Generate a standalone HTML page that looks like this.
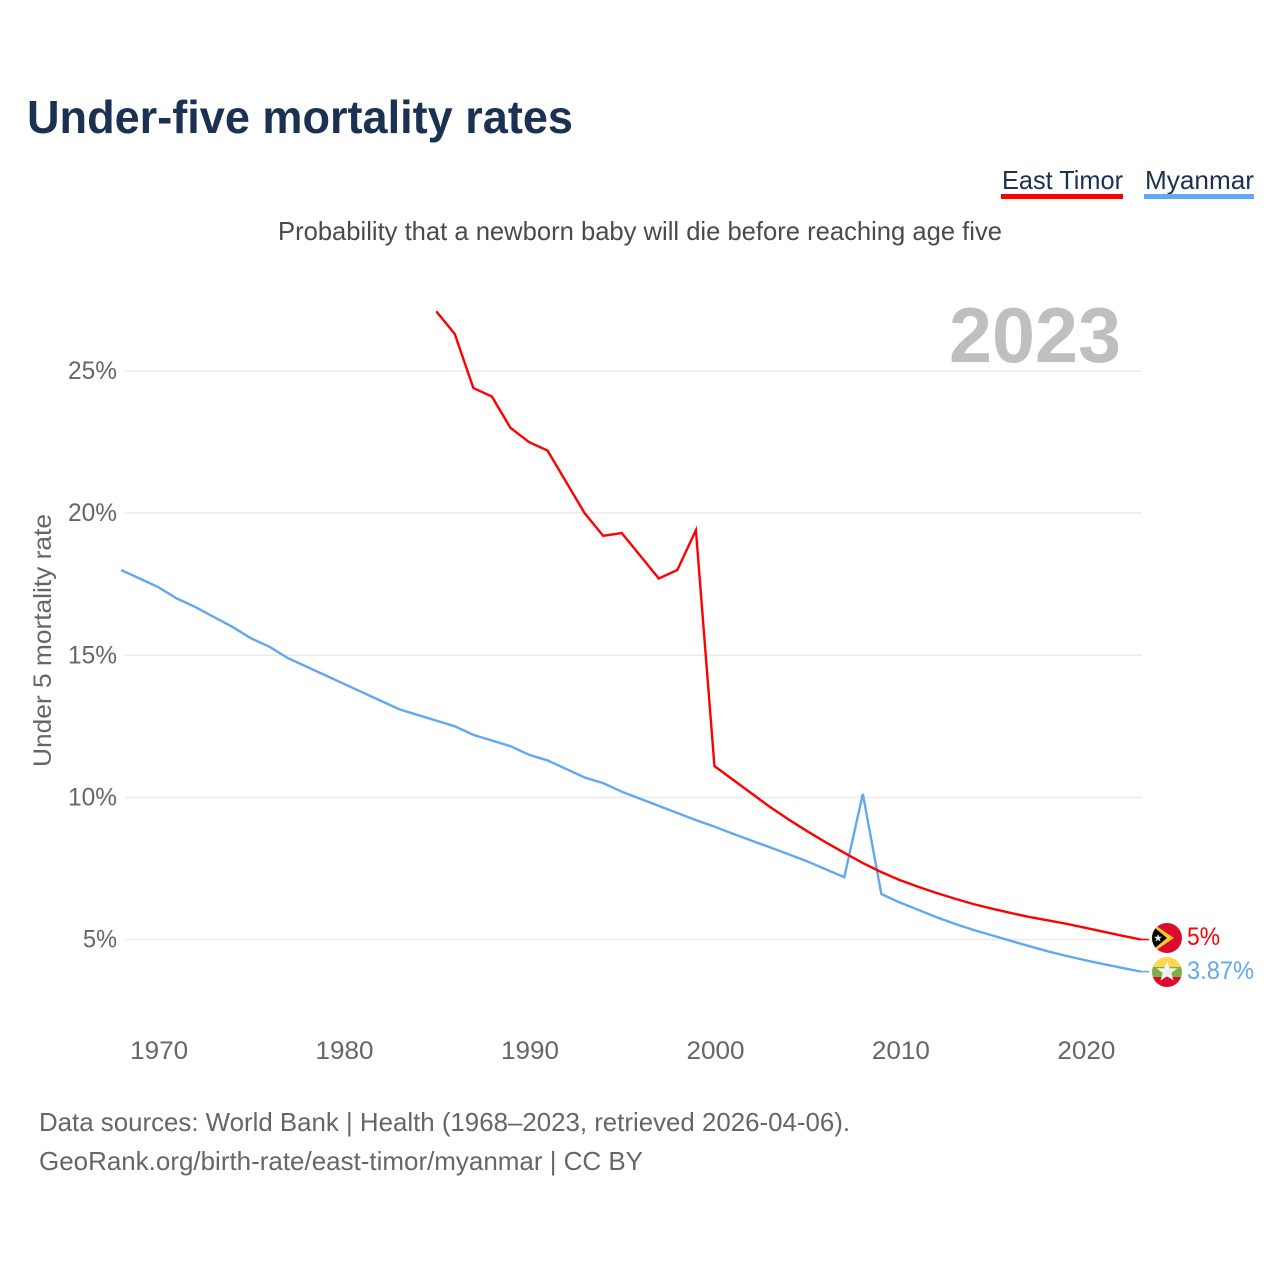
<!DOCTYPE html>
<html lang="en">
<head>
<meta charset="utf-8">
<title>Under-five mortality rates</title>
<style>
html,body{margin:0;padding:0;background:#fff;}
svg{display:block;font-family:"Liberation Sans",sans-serif;}
</style>
</head>
<body>
<svg id="chart" xmlns="http://www.w3.org/2000/svg" width="1280" height="1280" viewBox="0 0 1280 1280">
  <rect x="0" y="0" width="1280" height="1280" fill="#ffffff"/>
  <text x="27" y="133" font-size="46" font-weight="700" fill="#1a3152" textLength="546" lengthAdjust="spacingAndGlyphs">Under-five mortality rates</text>

  <g>
    <g>
      <text x="1002" y="189" font-size="26" fill="#1a3152" textLength="121" lengthAdjust="spacingAndGlyphs">East Timor</text>
      <rect x="1001" y="194" width="122" height="5" fill="#ff0000"/>
    </g>
    <g>
      <text x="1145" y="189" font-size="26" fill="#1a3152" textLength="109" lengthAdjust="spacingAndGlyphs">Myanmar</text>
      <rect x="1144" y="194" width="110" height="5" fill="#63a7ee"/>
    </g>
  </g>

  <text x="278" y="240" font-size="26" fill="#4a4a4a" textLength="724" lengthAdjust="spacingAndGlyphs">Probability that a newborn baby will die before reaching age five</text>

  <g id="grid"></g>
  <g id="yticks"></g>
  <g id="xticks"></g>

  <text x="949" y="362" font-size="78" font-weight="700" fill="#bfbfbf" textLength="172" lengthAdjust="spacingAndGlyphs">2023</text>

  <text transform="translate(51,767) rotate(-90)" x="0" y="0" font-size="25" fill="#666666" textLength="253" lengthAdjust="spacingAndGlyphs">Under 5 mortality rate</text>

  <g id="series"></g>

  <defs>
    <clipPath id="clip-tl"><circle cx="1167" cy="938" r="15"/></clipPath>
    <clipPath id="clip-mm"><circle cx="1167" cy="972" r="15"/></clipPath>
  </defs>

  <g clip-path="url(#clip-tl)">
    <rect x="1152" y="923" width="30" height="30" fill="#dc0a2d"/>
    <polygon points="1152,923 1174,938 1152,953" fill="#ffc72c"/>
    <polygon points="1152,925.5 1167,938 1152,950.5" fill="#000000"/>
    <polygon points="1158,934 1159,936.8 1162,936.8 1159.6,938.7 1160.5,941.6 1158,939.9 1155.5,941.6 1156.4,938.7 1154,936.8 1157,936.8" fill="#e8e8e8"/>
  </g>
  <g clip-path="url(#clip-mm)">
    <rect x="1152" y="957" width="30" height="10" fill="#fdd54f"/>
    <rect x="1152" y="967" width="30" height="10" fill="#7fae48"/>
    <rect x="1152" y="977" width="30" height="10" fill="#dc0a2d"/>
    <polygon points="1167,961 1169.8,968.2 1177.5,968.2 1171.3,973 1173.5,980.5 1167,976.2 1160.5,980.5 1162.7,973 1156.5,968.2 1164.2,968.2" fill="#f0f0f0"/>
  </g>

  <text x="1187" y="945" font-size="25" fill="#ff0000" textLength="33" lengthAdjust="spacingAndGlyphs">5%</text>
  <text x="1187" y="979" font-size="25" fill="#63a7ee" textLength="67" lengthAdjust="spacingAndGlyphs">3.87%</text>

  <text x="39" y="1131" font-size="26" fill="#666666" textLength="811" lengthAdjust="spacingAndGlyphs">Data sources: World Bank | Health (1968–2023, retrieved 2026-04-06).</text>
  <a><text x="39" y="1170" font-size="26" fill="#666666" textLength="604" lengthAdjust="spacingAndGlyphs">GeoRank.org/birth-rate/east-timor/myanmar | CC BY</text></a>
</svg>

<script>
const yTickValues = [5, 10, 15, 20, 25];
const xTickYears = [1970, 1980, 1990, 2000, 2010, 2020];

const eastTimorStartYear = 1985;
const eastTimorValues = [
  27.1, 26.3, 24.4, 24.1, 23.0, 22.5, 22.2, 21.1, 20.0, 19.2,
  19.3, 18.5, 17.7, 18.0, 19.4, 11.1, 10.62, 10.14, 9.66, 9.22,
  8.81, 8.42, 8.05, 7.69, 7.37, 7.09, 6.85, 6.63, 6.43, 6.24,
  6.08, 5.93, 5.79, 5.67, 5.55, 5.41, 5.27, 5.13, 5.0
];

const myanmarStartYear = 1968;
const myanmarValues = [
  18.0, 17.7, 17.4, 17.0, 16.7, 16.35, 16.0, 15.6, 15.3, 14.9,
  14.6, 14.3, 14.0, 13.7, 13.4, 13.1, 12.9, 12.7, 12.5, 12.2,
  12.0, 11.8, 11.5, 11.3, 11.0, 10.7, 10.5, 10.2, 9.95, 9.7,
  9.45, 9.2, 8.97, 8.72, 8.48, 8.24, 8.0, 7.75, 7.47, 7.19,
  10.12, 6.6, 6.3, 6.04, 5.78, 5.54, 5.33, 5.14, 4.95, 4.76,
  4.58, 4.42, 4.27, 4.13, 4.0, 3.87
];

const SVG_NS = 'http://www.w3.org/2000/svg';

function xScale(year) {
  return 121 + (year - 1968) * (1141 - 121) / (2023 - 1968);
}
function yScale(value) {
  return 939.5 - (value - 5) * (939.5 - 371) / 20;
}
function linePath(startYear, values) {
  return values.map(function (v, i) {
    return (i ? 'L' : 'M') + xScale(startYear + i).toFixed(2) + ' ' + yScale(v).toFixed(2);
  }).join(' ');
}
function svgEl(tag) {
  return document.createElementNS(SVG_NS, tag);
}

const gridGroup = document.getElementById('grid');
const yTickGroup = document.getElementById('yticks');
const xTickGroup = document.getElementById('xticks');
const seriesGroup = document.getElementById('series');

yTickValues.forEach(function (v) {
  const line = svgEl('line');
  
  
  line.setAttribute('x1', 125);
  line.setAttribute('x2', 1142);
  line.setAttribute('y1', yScale(v));
  line.setAttribute('y2', yScale(v));
  line.setAttribute('stroke', '#ebebeb');
  line.setAttribute('stroke-width', 1.5);
  gridGroup.appendChild(line);

  const label = svgEl('text');
  
  
  const text = v + '%';
  const width = text.length === 3 ? 49 : 34;
  label.setAttribute('x', 117 - width);
  label.setAttribute('y', yScale(v) + 8);
  label.setAttribute('font-size', 25);
  label.setAttribute('fill', '#666666');
  label.setAttribute('textLength', width);
  label.setAttribute('lengthAdjust', 'spacingAndGlyphs');
  label.textContent = text;
  yTickGroup.appendChild(label);
});

xTickYears.forEach(function (year) {
  const label = svgEl('text');
  
  
  label.setAttribute('x', xScale(year) - 28);
  label.setAttribute('y', 1059);
  label.setAttribute('font-size', 25);
  label.setAttribute('fill', '#666666');
  label.setAttribute('textLength', 58);
  label.setAttribute('lengthAdjust', 'spacingAndGlyphs');
  label.textContent = String(year);
  xTickGroup.appendChild(label);
});

function drawSeries(startYear, values, color, name) {
  const path = svgEl('path');
  
  
  path.setAttribute('d', linePath(startYear, values));
  path.setAttribute('fill', 'none');
  path.setAttribute('stroke', color);
  path.setAttribute('stroke-width', 2.4);
  path.setAttribute('stroke-linejoin', 'miter');
  seriesGroup.appendChild(path);

  const lastY = yScale(values[values.length - 1]);
  const connector = svgEl('line');
  
  
  connector.setAttribute('x1', 1141);
  connector.setAttribute('x2', 1149);
  connector.setAttribute('y1', lastY);
  connector.setAttribute('y2', lastY);
  connector.setAttribute('stroke', color);
  connector.setAttribute('stroke-width', 1.6);
  seriesGroup.appendChild(connector);
}

drawSeries(myanmarStartYear, myanmarValues, '#63a7ee', 'line-myanmar');
drawSeries(eastTimorStartYear, eastTimorValues, '#ff0000', 'line-east-timor');
</script>
</body>
</html>
